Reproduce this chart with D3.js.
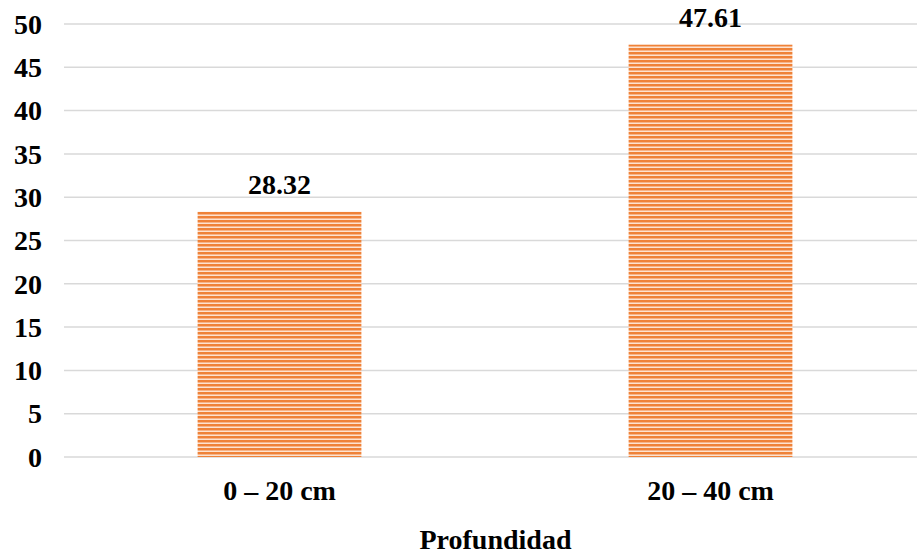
<!DOCTYPE html>
<html>
<head>
<meta charset="utf-8">
<script src="https://cdn.jsdelivr.net/npm/d3@7"></script>
<style>
  html, body { margin: 0; padding: 0; background: #fff; }
  svg { display: block; }
  svg text { font-family: 'Liberation Serif', 'Times New Roman', serif !important; font-weight: bold; fill: #000; }
</style>
</head>
<body>
<svg id="chart" width="917" height="554"></svg>
<script>
// Chart data
const categories = ["0 – 20 cm", "20 – 40 cm"];
const values = [28.32, 47.61];
const yTicks = [0, 5, 10, 15, 20, 25, 30, 35, 40, 45, 50];
const xTitle = "Profundidad";

const svg = d3.select("#chart");
const margin = { left: 64, right: -9, top: 24, bottom: 97 };
const W = 917, H = 554;
const FS = 28;

const x = d3.scaleBand()
  .domain(categories)
  .range([margin.left, W - margin.right])
  .paddingInner(0.62)
  .paddingOuter(0.31);

const y = d3.scaleLinear()
  .domain([0, 50])
  .range([H - margin.bottom, margin.top]);

// Horizontal stripe fill for the bars
const defs = svg.append("defs");
const pat = defs.append("pattern")
  .attr("id", "stripes")
  .attr("patternUnits", "userSpaceOnUse")
  .attr("width", 8).attr("height", 4);
pat.append("rect").attr("width", 8).attr("height", 4).attr("fill", "#f7b489");
pat.append("rect").attr("y", 0).attr("width", 8).attr("height", 2).attr("fill", "#ef8238");
pat.append("rect").attr("y", 3).attr("width", 8).attr("height", 1).attr("fill", "#fde3d0");

// Gridlines
svg.append("g")
  .selectAll("line")
  .data(yTicks)
  .join("line")
  .attr("x1", margin.left)
  .attr("x2", W)
  .attr("y1", d => y(d))
  .attr("y2", d => y(d))
  .attr("stroke", "#d9d9d9")
  .attr("stroke-width", 1.5);

// Y axis labels
const yAxis = d3.axisLeft(y).tickValues(yTicks).tickSize(0).tickPadding(0).tickFormat(d3.format("d"));
const gy = svg.append("g").attr("transform", `translate(${margin.left - 22},0)`).call(yAxis);
gy.select(".domain").remove();
gy.attr("font-size", FS);
gy.selectAll("text").attr("dy", "0.33em");

// Bars
svg.append("g")
  .selectAll("rect")
  .data(values)
  .join("rect")
  .attr("x", (d, i) => x(categories[i]))
  .attr("width", x.bandwidth())
  .attr("y", d => y(d))
  .attr("height", d => y(0) - y(d))
  .attr("fill", "url(#stripes)");

// Value labels
svg.append("g")
  .attr("font-size", FS)
  .selectAll("text")
  .data(values)
  .join("text")
  .attr("x", (d, i) => x(categories[i]) + x.bandwidth() / 2)
  .attr("y", d => y(d) - 18)
  .attr("text-anchor", "middle")
  .text(d => d.toFixed(2));

// X axis labels
const xAxis = d3.axisBottom(x).tickSize(0).tickPadding(0);
const gx = svg.append("g").attr("transform", `translate(0,${y(0) + 43})`).call(xAxis);
gx.select(".domain").remove();
gx.attr("font-size", FS);
gx.selectAll("text").attr("dy", "0");

// X axis title
svg.append("text")
  .attr("x", (margin.left + W) / 2 + 5)
  .attr("y", 549)
  .attr("text-anchor", "middle")
  .attr("font-size", FS)
  .text(xTitle);
</script>
</body>
</html>
